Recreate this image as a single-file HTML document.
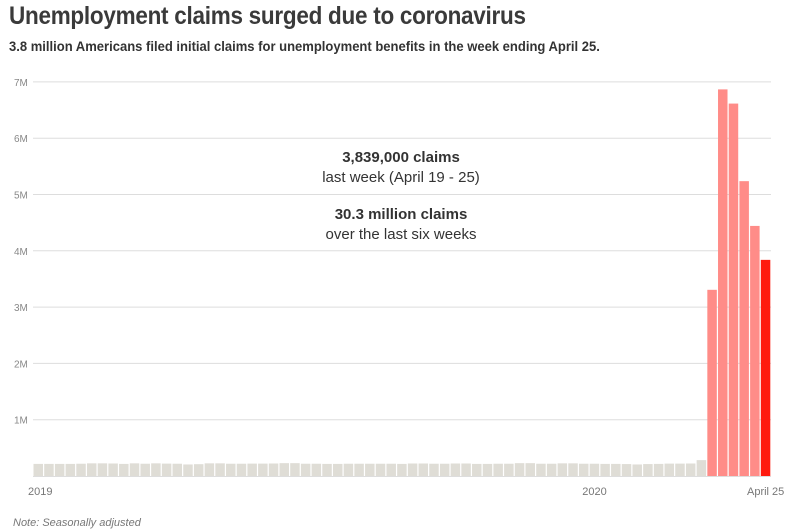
<!DOCTYPE html>
<html><head><meta charset="utf-8"><style>
body{margin:0;background:#fff;width:790px;height:532px;overflow:hidden;font-family:"Liberation Sans",sans-serif;}
#title{position:absolute;left:9px;top:2px;font-size:25px;font-weight:bold;color:#3a3a3a;transform:scaleX(0.9);transform-origin:left;white-space:nowrap;letter-spacing:-0.3px}
#sub{position:absolute;left:9px;top:38px;font-size:14px;font-weight:bold;color:#333;transform:scaleX(0.93);transform-origin:left;white-space:nowrap}
svg{position:absolute;left:0;top:0}
</style></head><body>
<div id="title">Unemployment claims surged due to coronavirus</div>
<div id="sub">3.8 million Americans filed initial claims for unemployment benefits in the week ending April 25.</div>
<svg id="chart" width="790" height="532"></svg>
<script>
const values=[215,218,225,225,222,215,225,218,225,220,218,205,210,225,225,218,218,220,220,222,228,228,218,218,215,215,218,218,218,218,218,215,222,222,218,218,222,222,215,215,218,218,228,228,218,218,225,225,218,218,215,215,212,205,212,215,220,220,222,282,3307,6867,6615,5237,4442,3839];
const yTicks=[1,2,3,4,5,6,7];
const xLabels=[{i:0,t:"2019",a:"start"},{i:52,t:"2020",a:"middle"},{i:68,t:"April 25",a:"middle"}];
const NS="http://www.w3.org/2000/svg",svg=document.getElementById('chart');
while(values.length<69)values.unshift(215);
const x0=33,x1=771,base=476,pxPerM=56.3;
const bw=(x1-x0)/values.length;
const y=v=>base-v/1000*pxPerM;
const xs=i=>x0+i*bw;
function mk(t,a){const e=document.createElementNS(NS,t);for(const k in a)e.setAttribute(k,a[k]);svg.appendChild(e);return e;}
yTicks.forEach(m=>{
 const g=mk('line',{x1:x0,x2:x1,y1:y(m*1000),y2:y(m*1000),stroke:'#ddd','stroke-width':1});
 
 
 const t=mk('text',{x:14,y:y(m*1000)+4,'font-size':10,fill:'#888'});t.textContent=m+'M';
 
 
});
const ax=mk('line',{x1:x0,x2:x1,y1:base+0.5,y2:base+0.5,stroke:'#ddd'});


values.forEach((v,i)=>{
 const n=values.length;
 const fill=i===n-1?'#ff1a0e':(v>1000?'#ff8c88':'#dfddd6');
 const r=mk('rect',{x:xs(i)+0.5,y:y(v),width:bw-1.2,height:base-y(v),fill:fill});
 
 
});
xLabels.forEach(l=>{
 const cx=l.a==='start'?28:xs(l.i)+bw/2;
 const t=mk('text',{x:cx,y:495,'font-size':11,fill:'#777','text-anchor':l.a});t.textContent=l.t;
 
 
});
const ann=[["3,839,000 claims",162,'bold'],["last week (April 19 - 25)",182,'normal'],["30.3 million claims",219,'bold'],["over the last six weeks",239,'normal']];
ann.forEach(a=>{
 const t=mk('text',{x:401,y:a[1],'font-size':15,'font-weight':a[2],fill:'#333','text-anchor':'middle'});t.textContent=a[0];
 
 
});
const note=mk('text',{x:13,y:526,'font-size':11,'font-style':'italic',fill:'#777'});note.textContent="Note: Seasonally adjusted";


</script>
</body></html>
